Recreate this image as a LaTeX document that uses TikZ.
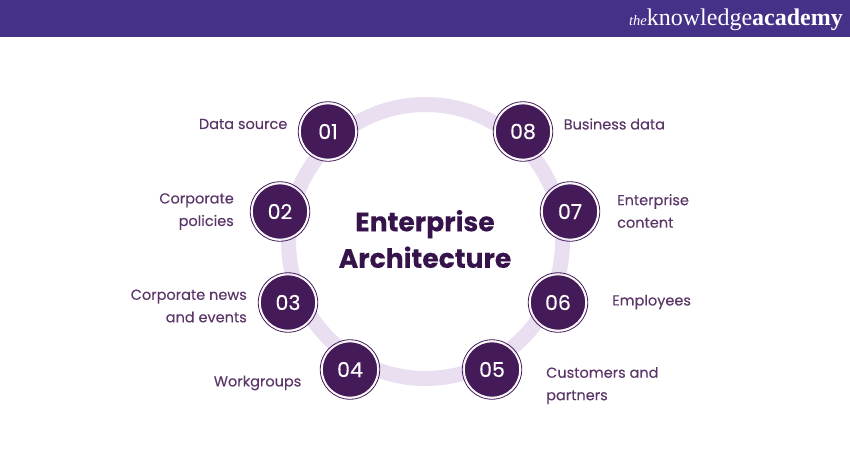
\documentclass[tikz,border=0pt]{standalone}
\usepackage{fontspec}
\setmainfont{Poppins}[FakeBold=0.12]
\newfontfamily\numfont{Poppins}[FakeBold=0.25]
\newfontfamily\logofont{Liberation Serif}
\definecolor{banner}{HTML}{463188}
\definecolor{plum}{HTML}{451A59}
\definecolor{ringcol}{HTML}{EADFF0}
\definecolor{labelcol}{HTML}{5A3568}
\definecolor{titlecol}{HTML}{36134A}
\tikzset{
	numdisc/.style={circle,fill=plum,draw=white,line width=1pt,minimum size=55.5pt,inner sep=0pt,text=white,font=\numfont\fontsize{20.5}{20.5}\selectfont},
	numrim/.style={circle,draw=plum,line width=0.8pt,minimum size=59.5pt,inner sep=0pt},
	lefttext/.style={anchor=east,align=right,text=labelcol,font=\fontsize{14.5}{22.5}\selectfont,inner sep=0pt},
	righttext/.style={anchor=west,align=left,text=labelcol,font=\fontsize{14.5}{22.5}\selectfont,inner sep=0pt},
}
\begin{document}
\begin{tikzpicture}[x=1pt,y=1pt,yscale=-1,xscale=1]
		\useasboundingbox (0,0) rectangle (850,450);

		% Banner and logo
		\fill[banner] (0,0) rectangle (850,36.5);
		\node[anchor=east,text=white,inner sep=0pt,font=\logofont\fontsize{24}{24}\selectfont] (logo) at (843,20) {{\itshape\fontsize{14.5}{14.5}\selectfont the}knowledge\textbf{academy}};

		% Ring and centre
		\node[circle,draw=ringcol,line width=15pt,fill=white,minimum size=274pt,inner sep=0pt] (ring) at (425.5,241.5) {};
		\node[align=center,text=titlecol,font=\fontsize{26.6}{36.5}\selectfont\bfseries] (title) at (425,239) {Enterprise\\Architecture};

		% Numbered discs
		\foreach \name/\px/\py in {01/328/131.5,02/280/211.5,03/288/302.5,04/350/369.5,05/492/369.5,06/558/302.5,07/570/211.5,08/523/131.5}{
			\node[numrim] (rim\name) at (\px,\py) {};
			\node[numdisc] (disc\name) at (\px,\py) {\name};
		}

		% Left labels
		\node[lefttext] (data) at (287.5,124) {Data source};
		\node[lefttext] (policies) at (234,211.5) {Corporate\\policies};
		\node[lefttext] (news) at (247,306) {Corporate news\\and events};
		\node[lefttext] (groups) at (301.5,383) {Workgroups};

		% Right labels
		\node[righttext] (business) at (563.5,124) {Business data};
		\node[righttext] (content) at (617,211) {Enterprise\\content};
		\node[righttext] (staff) at (612,302) {Employees};
		\node[righttext] (partners) at (546,385.5) {Customers and\\partners};
	\end{tikzpicture}
\end{document}
